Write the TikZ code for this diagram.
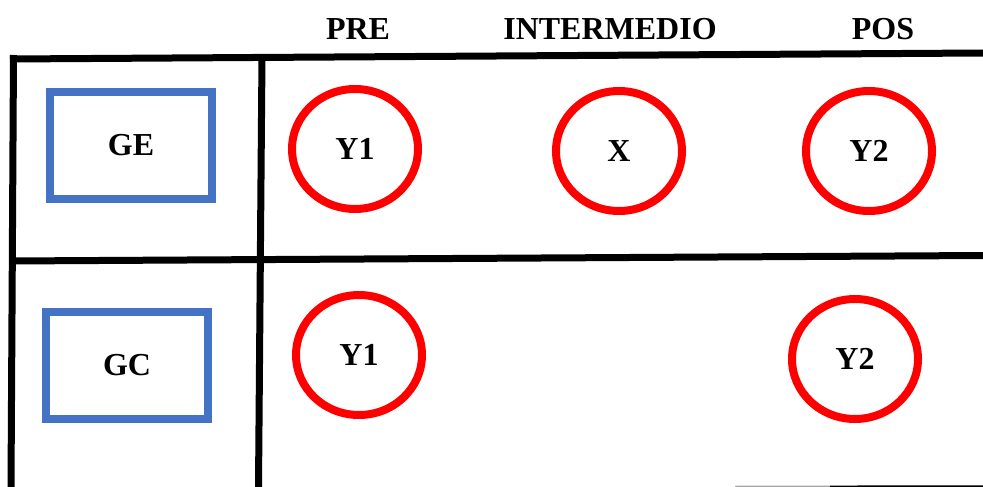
\documentclass[tikz,border=0pt]{standalone}
\usepackage{fontspec}
\setmainfont{Liberation Serif}
\usetikzlibrary{shapes.geometric}
\definecolor{azul}{RGB}{68,114,196}
\begin{document}
\begin{tikzpicture}[x=1pt,y=-1pt]
                        \tikzstyle{letra}=[font=\fontsize{32}{38}\selectfont\bfseries]
                        \tikzstyle{grupo}=[letra, draw=azul, line width=8pt, minimum width=162pt, minimum height=107pt]
                        \tikzstyle{medida}=[letra, ellipse, draw=red, line width=8pt, minimum width=126pt, minimum height=120pt]
                        \tikzstyle{linea}=[line width=7pt]
                        \useasboundingbox (0,0) rectangle (983,487);
                        \coordinate (a1) at (10,59);
                        \coordinate (a2) at (983,53);
                        \coordinate (b1) at (10,261);
                        \coordinate (b2) at (983,255.5);
                        \coordinate (c1) at (13.5,55);
                        \coordinate (c2) at (11,487);
                        \coordinate (d1) at (262,56);
                        \coordinate (d2) at (258.5,487);
                        \coordinate (e1) at (735,486.5);
                        \coordinate (e2) at (830,486.3);
                        \coordinate (e3) at (983,486);
                        \draw[linea] (a1) -- (a2);
                        \draw[linea] (b1) -- (b2);
                        \draw[linea] (c1) -- (c2);
                        \draw[linea] (d1) -- (d2);
                        \draw[line width=1.5pt, black!35] (e1) -- (e2);
                        \draw[line width=1.5pt] (e2) -- (e3);
                        \node[letra] (pre) at (358,29.5) {PRE};
                        \node[letra] (inter) at (610,29.5) {INTERMEDIO};
                        \node[letra] (pos) at (883,29.5) {POS};
                        \node[grupo] (ge) at (131,145.5) {GE};
                        \node[grupo] (gc) at (127,365) {GC};
                        \node[medida] (ye1) at (355,149) {Y1};
                        \node[medida] (xe) at (619,151) {X};
                        \node[medida] (ye2) at (869,151) {Y2};
                        \node[medida] (yc1) at (359,355) {Y1};
                        \node[medida] (yc2) at (855,359) {Y2};
                    \end{tikzpicture}
\end{document}
